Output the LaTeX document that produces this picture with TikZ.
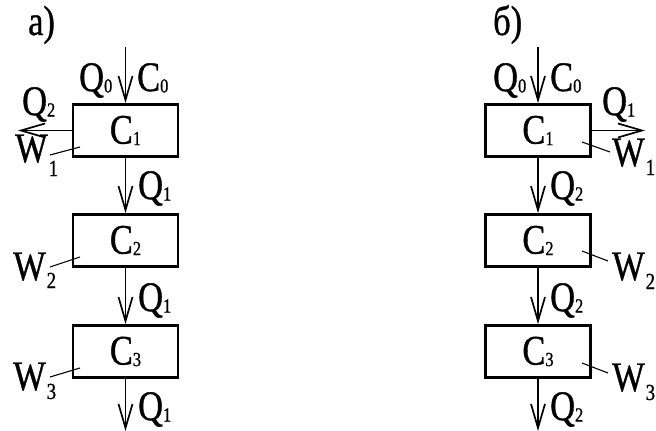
\documentclass[tikz,border=0pt]{standalone}
\usepackage{fontspec}
\setmainfont{Liberation Serif}[FakeStretch=0.82,FakeBold=0.8]
\usetikzlibrary{arrows.meta}
\newcommand{\lsub}[2]{#1{\fontsize{20}{20}\selectfont\raisebox{-1.5pt}{#2}}}
\newcommand{\wsub}[3]{#1\kern1pt{\fontsize{23}{23}\selectfont\raisebox{-#3pt}{#2}}}
\newcommand{\boxlbl}[2]{\raisebox{-3pt}{\lsub{#1}{#2}}}
\tikzset{
  box/.style={draw, line width=2.8pt, minimum width=105pt, minimum height=52pt, inner sep=0pt, font=\fontsize{42}{42}\selectfont},
  lbl/.style={inner sep=0pt, anchor=base west, font=\fontsize{42}{42}\selectfont},
  flow/.style={line width=1.3pt, -{Straight Barb[length=24pt, width=14pt, line width=1.7pt]}},
  lead/.style={line width=1.1pt}
}
\begin{document}
\begin{tikzpicture}[x=1pt,y=-1pt]
\useasboundingbox (0,0) rectangle (656,431);
% left panel
\node[lbl] (la) at (28,35) {а)};
\node[box] (a1) at (125.5,130.5) {\boxlbl{C}{1}};
\node[box] (a2) at (125.5,240.5) {\boxlbl{C}{2}};
\node[box] (a3) at (125.5,351.5) {\boxlbl{C}{3}};
\coordinate (atop) at (125.5,47);
\coordinate (abot) at (125.5,431);
\coordinate (aout) at (18,130.5);
\draw[flow] (atop) -- (a1.north);
\draw[flow] (a1.south) -- (a2.north);
\draw[flow] (a2.south) -- (a3.north);
\draw[flow] (a3.south) -- (abot);
\draw[flow] (a1.west) -- (aout);
\node[lbl] (aq0) at (79,91) {\lsub{Q}{0}};
\node[lbl] (ac0) at (137,91) {\lsub{C}{0}};
\node[lbl] (aq2) at (22,115) {\lsub{Q}{2}};
\node[lbl] (aqa) at (138,199) {\lsub{Q}{1}};
\node[lbl] (aqb) at (138,311) {\lsub{Q}{1}};
\node[lbl] (aqc) at (138,420) {\lsub{Q}{1}};
\node[lbl] (aw1) at (15,162) {\wsub{W}{1}{14}};
\node[lbl] (aw2) at (13,280) {\wsub{W}{2}{8}};
\node[lbl] (aw3) at (13,390) {\wsub{W}{3}{9}};
\coordinate (al1a) at (50,155); \coordinate (al1b) at (80,147);
\coordinate (al2a) at (50,267); \coordinate (al2b) at (80,257);
\coordinate (al3a) at (50,377); \coordinate (al3b) at (80,368);
\draw[lead] (al1a) -- (al1b);
\draw[lead] (al2a) -- (al2b);
\draw[lead] (al3a) -- (al3b);
% right panel
\node[lbl] (lb) at (493,35) {б)};
\node[box] (b1) at (538,130.5) {\boxlbl{C}{1}};
\node[box] (b2) at (538,240.5) {\boxlbl{C}{2}};
\node[box] (b3) at (538,351.5) {\boxlbl{C}{3}};
\coordinate (btop) at (538,47);
\coordinate (bbot) at (538,431);
\coordinate (bout) at (645,130.5);
\draw[flow] (btop) -- (b1.north);
\draw[flow] (b1.south) -- (b2.north);
\draw[flow] (b2.south) -- (b3.north);
\draw[flow] (b3.south) -- (bbot);
\draw[flow] (b1.east) -- (bout);
\node[lbl] (bq0) at (493,91) {\lsub{Q}{0}};
\node[lbl] (bc0) at (550,91) {\lsub{C}{0}};
\node[lbl] (bq1) at (602,115) {\lsub{Q}{1}};
\node[lbl] (bqa) at (550,199) {\lsub{Q}{2}};
\node[lbl] (bqb) at (550,311) {\lsub{Q}{2}};
\node[lbl] (bqc) at (550,420) {\lsub{Q}{2}};
\node[lbl] (bw1) at (612,166) {\wsub{W}{1}{9}};
\node[lbl] (bw2) at (612,280) {\wsub{W}{2}{9}};
\node[lbl] (bw3) at (612,391) {\wsub{W}{3}{9}};
\coordinate (bl1a) at (582,142); \coordinate (bl1b) at (610,152);
\coordinate (bl2a) at (582,251); \coordinate (bl2b) at (608,261);
\coordinate (bl3a) at (582,363); \coordinate (bl3b) at (608,373);
\draw[lead] (bl1a) -- (bl1b);
\draw[lead] (bl2a) -- (bl2b);
\draw[lead] (bl3a) -- (bl3b);
\end{tikzpicture}
\end{document}
